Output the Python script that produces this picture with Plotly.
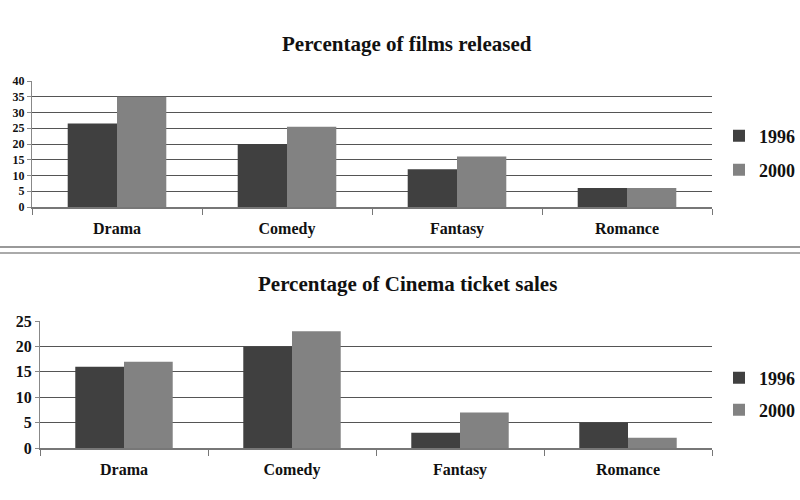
import plotly.graph_objects as go

categories = ["Drama", "Comedy", "Fantasy", "Romance"]
films_1996 = [26.5, 20, 12, 6]
films_2000 = [35, 25.5, 16, 6]
sales_1996 = [16, 20, 3, 5]
sales_2000 = [17, 23, 7, 2]
years = ["1996", "2000"]
colors = ["#404040", "#828282"]

W, H = 800, 500
def py(px):
    return 1 - px / H
def pxx(px):
    return px / W

FONT = "Liberation Serif"

fig = go.Figure()
# top chart
fig.add_trace(go.Bar(x=categories, y=films_1996, name=years[0], marker_color=colors[0],
                     marker_line_width=0, xaxis="x", yaxis="y", legend="legend"))
fig.add_trace(go.Bar(x=categories, y=films_2000, name=years[1], marker_color=colors[1],
                     marker_line_width=0, xaxis="x", yaxis="y", legend="legend2"))
# bottom chart
fig.add_trace(go.Bar(x=categories, y=sales_1996, name=years[0], marker_color=colors[0],
                     marker_line_width=0, xaxis="x2", yaxis="y2", legend="legend3"))
fig.add_trace(go.Bar(x=categories, y=sales_2000, name=years[1], marker_color=colors[1],
                     marker_line_width=0, xaxis="x2", yaxis="y2", legend="legend4"))

axis_common = dict(showgrid=False, ticks="outside", tickson="boundaries", ticklen=6,
                   tickcolor="#777", showline=True, linecolor="#777", linewidth=1.5,
                   ticklabelstandoff=6,
                   tickfont=dict(family=FONT, size=16, color="#111", weight="bold"))
yaxis_common = dict(showgrid=True, gridcolor="#555", gridwidth=1.3, showline=True,
                    linecolor="#888", linewidth=1, ticks="outside", ticklen=4,
                    tickcolor="#888", zeroline=False)

def leg(x, y):
    return dict(x=pxx(x), y=py(y), xanchor="left", yanchor="middle",
                bgcolor="rgba(0,0,0,0)", font=dict(family=FONT, size=18, color="#111", weight="bold"),
                itemwidth=30, tracegroupgap=0)

fig.update_layout(
    width=W, height=H, margin=dict(l=0, r=0, t=0, b=0, autoexpand=False),
    paper_bgcolor="white", plot_bgcolor="white",
    barmode="group", bargap=0.42, bargroupgap=0,
    showlegend=True,
    xaxis=dict(domain=[pxx(32), pxx(712)], anchor="y", **axis_common),
    yaxis=dict(domain=[py(207), py(81)], anchor="x", range=[0, 40], dtick=5,
               tickfont=dict(family=FONT, size=12, color="#111", weight="bold"), **yaxis_common),
    xaxis2=dict(domain=[pxx(40), pxx(712)], anchor="y2", **axis_common),
    yaxis2=dict(domain=[py(448), py(321)], anchor="x2", range=[0, 25], dtick=5,
                tickfont=dict(family=FONT, size=16, color="#111", weight="bold"), **yaxis_common),
    legend=leg(719, 136),
    legend2=leg(719, 170),
    legend3=leg(719, 378),
    legend4=leg(719, 410),
    annotations=[
        dict(text="Percentage of films released", x=pxx(407), y=py(44), xref="paper", yref="paper",
             showarrow=False, xanchor="center", yanchor="middle",
             font=dict(family=FONT, size=21, color="#111", weight="bold")),
        dict(text="Percentage of Cinema ticket sales", x=pxx(407), y=py(284), xref="paper", yref="paper",
             showarrow=False, xanchor="center", yanchor="middle",
             font=dict(family=FONT, size=21, color="#111", weight="bold")),
    ],
    shapes=[
        dict(type="line", xref="paper", yref="paper", x0=0, x1=1, y0=py(247), y1=py(247),
             line=dict(color="#999", width=2)),
        dict(type="line", xref="paper", yref="paper", x0=0, x1=1, y0=py(253), y1=py(253),
             line=dict(color="#aaa", width=2)),
    ],
)

fig.write_html("out.html")
